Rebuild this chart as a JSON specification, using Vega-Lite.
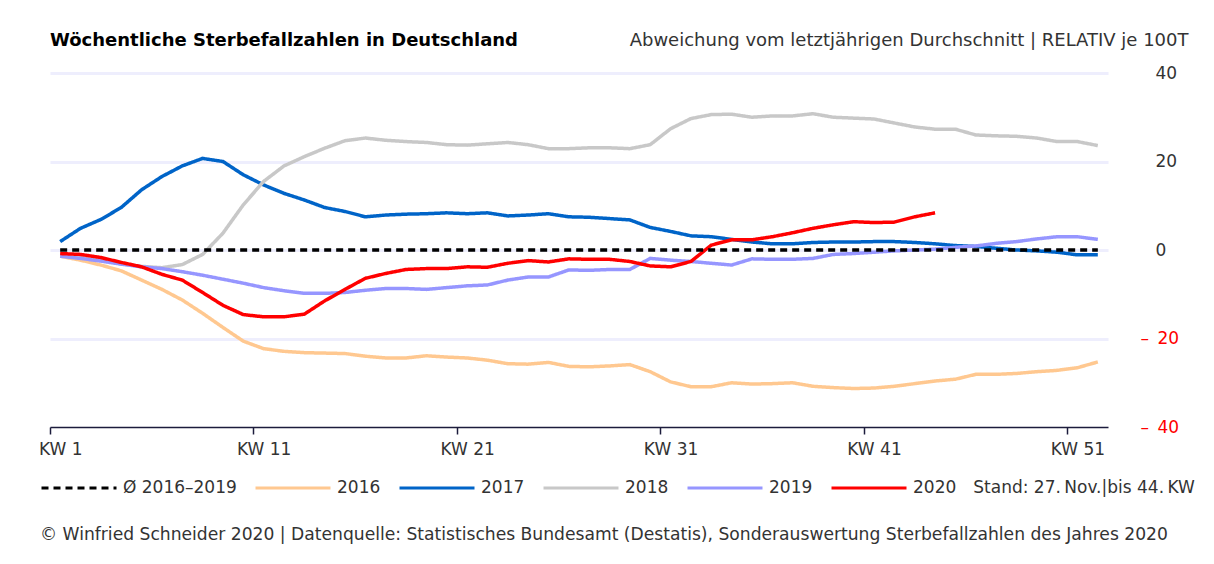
{
  "$schema": "https://vega.github.io/schema/vega-lite/v6.json",
  "width": 1058,
  "height": 354,
  "autosize": {"type": "none"},
  "padding": {"left": 50, "top": 73, "right": 106, "bottom": 137},
  "background": "white",
  "config": {"font": "DejaVu Sans", "view": {"stroke": null}},
  "title": {"text": "Wöchentliche Sterbefallzahlen in Deutschland", "anchor": "start", "frame": "group", "fontSize": 18, "fontWeight": "bold", "color": "#000000", "baseline": "alphabetic", "offset": -33},
  "data": {"values": [
    {"w":1,"2016":-1.4,"2017":1.9,"2018":-1.0,"2019":-1.4,"2020":-0.8,"avg":0},
    {"w":2,"2016":-2.3,"2017":4.9,"2018":-1.6,"2019":-1.9,"2020":-1.0,"avg":0},
    {"w":3,"2016":-3.4,"2017":6.9,"2018":-2.4,"2019":-2.5,"2020":-1.7,"avg":0},
    {"w":4,"2016":-4.7,"2017":9.6,"2018":-3.1,"2019":-3.2,"2020":-2.8,"avg":0},
    {"w":5,"2016":-6.8,"2017":13.6,"2018":-3.7,"2019":-3.8,"2020":-3.8,"avg":0},
    {"w":6,"2016":-8.9,"2017":16.6,"2018":-4.0,"2019":-4.2,"2020":-5.5,"avg":0},
    {"w":7,"2016":-11.3,"2017":19.0,"2018":-3.3,"2019":-4.9,"2020":-6.8,"avg":0},
    {"w":8,"2016":-14.3,"2017":20.7,"2018":-1.0,"2019":-5.7,"2020":-9.6,"avg":0},
    {"w":9,"2016":-17.5,"2017":20.0,"2018":3.8,"2019":-6.6,"2020":-12.5,"avg":0},
    {"w":10,"2016":-20.6,"2017":17.0,"2018":10.2,"2019":-7.5,"2020":-14.6,"avg":0},
    {"w":11,"2016":-22.3,"2017":14.7,"2018":15.5,"2019":-8.5,"2020":-15.1,"avg":0},
    {"w":12,"2016":-22.9,"2017":12.8,"2018":19.0,"2019":-9.2,"2020":-15.1,"avg":0},
    {"w":13,"2016":-23.2,"2017":11.3,"2018":21.1,"2019":-9.8,"2020":-14.5,"avg":0},
    {"w":14,"2016":-23.3,"2017":9.6,"2018":23.0,"2019":-9.8,"2020":-11.5,"avg":0},
    {"w":15,"2016":-23.4,"2017":8.7,"2018":24.7,"2019":-9.6,"2020":-8.9,"avg":0},
    {"w":16,"2016":-24.0,"2017":7.5,"2018":25.3,"2019":-9.1,"2020":-6.4,"avg":0},
    {"w":17,"2016":-24.4,"2017":7.9,"2018":24.8,"2019":-8.7,"2020":-5.3,"avg":0},
    {"w":18,"2016":-24.4,"2017":8.1,"2018":24.5,"2019":-8.7,"2020":-4.4,"avg":0},
    {"w":19,"2016":-23.9,"2017":8.2,"2018":24.3,"2019":-8.9,"2020":-4.2,"avg":0},
    {"w":20,"2016":-24.2,"2017":8.4,"2018":23.8,"2019":-8.5,"2020":-4.2,"avg":0},
    {"w":21,"2016":-24.4,"2017":8.2,"2018":23.7,"2019":-8.1,"2020":-3.8,"avg":0},
    {"w":22,"2016":-24.9,"2017":8.4,"2018":24.0,"2019":-7.9,"2020":-3.9,"avg":0},
    {"w":23,"2016":-25.7,"2017":7.7,"2018":24.3,"2019":-6.8,"2020":-3.0,"avg":0},
    {"w":24,"2016":-25.8,"2017":7.9,"2018":23.8,"2019":-6.1,"2020":-2.4,"avg":0},
    {"w":25,"2016":-25.4,"2017":8.2,"2018":22.9,"2019":-6.1,"2020":-2.7,"avg":0},
    {"w":26,"2016":-26.3,"2017":7.5,"2018":22.9,"2019":-4.5,"2020":-2.0,"avg":0},
    {"w":27,"2016":-26.4,"2017":7.4,"2018":23.1,"2019":-4.6,"2020":-2.1,"avg":0},
    {"w":28,"2016":-26.2,"2017":7.1,"2018":23.1,"2019":-4.4,"2020":-2.1,"avg":0},
    {"w":29,"2016":-25.9,"2017":6.8,"2018":22.9,"2019":-4.4,"2020":-2.6,"avg":0},
    {"w":30,"2016":-27.5,"2017":5.1,"2018":23.8,"2019":-1.9,"2020":-3.6,"avg":0},
    {"w":31,"2016":-29.8,"2017":4.2,"2018":27.4,"2019":-2.3,"2020":-3.8,"avg":0},
    {"w":32,"2016":-30.9,"2017":3.2,"2018":29.7,"2019":-2.6,"2020":-2.6,"avg":0},
    {"w":33,"2016":-30.9,"2017":3.0,"2018":30.6,"2019":-3.0,"2020":1.1,"avg":0},
    {"w":34,"2016":-30.0,"2017":2.4,"2018":30.7,"2019":-3.4,"2020":2.3,"avg":0},
    {"w":35,"2016":-30.3,"2017":1.8,"2018":30.0,"2019":-2.0,"2020":2.3,"avg":0},
    {"w":36,"2016":-30.2,"2017":1.4,"2018":30.3,"2019":-2.1,"2020":3.0,"avg":0},
    {"w":37,"2016":-30.0,"2017":1.4,"2018":30.3,"2019":-2.1,"2020":3.9,"avg":0},
    {"w":38,"2016":-30.8,"2017":1.7,"2018":30.8,"2019":-1.9,"2020":4.9,"avg":0},
    {"w":39,"2016":-31.1,"2017":1.8,"2018":30.0,"2019":-1.0,"2020":5.7,"avg":0},
    {"w":40,"2016":-31.3,"2017":1.8,"2018":29.8,"2019":-0.8,"2020":6.4,"avg":0},
    {"w":41,"2016":-31.2,"2017":1.9,"2018":29.6,"2019":-0.5,"2020":6.2,"avg":0},
    {"w":42,"2016":-30.8,"2017":1.9,"2018":28.7,"2019":-0.2,"2020":6.3,"avg":0},
    {"w":43,"2016":-30.2,"2017":1.7,"2018":27.8,"2019":0.0,"2020":7.5,"avg":0},
    {"w":44,"2016":-29.6,"2017":1.4,"2018":27.3,"2019":0.2,"2020":8.4,"avg":0},
    {"w":45,"2016":-29.2,"2017":1.0,"2018":27.3,"2019":0.6,"avg":0},
    {"w":46,"2016":-28.1,"2017":0.8,"2018":26.0,"2019":0.9,"avg":0},
    {"w":47,"2016":-28.1,"2017":0.4,"2018":25.8,"2019":1.5,"avg":0},
    {"w":48,"2016":-27.9,"2017":0.0,"2018":25.7,"2019":1.9,"avg":0},
    {"w":49,"2016":-27.5,"2017":-0.2,"2018":25.3,"2019":2.5,"avg":0},
    {"w":50,"2016":-27.2,"2017":-0.5,"2018":24.5,"2019":3.0,"avg":0},
    {"w":51,"2016":-26.6,"2017":-1.1,"2018":24.5,"2019":3.0,"avg":0},
    {"w":52,"2016":-25.3,"2017":-1.1,"2018":23.6,"2019":2.4,"avg":0}
  ]},
  "transform": [
    {"fold": ["2016", "2017", "2018", "2019", "2020", "avg"], "as": ["s", "v"]},
    {"filter": "isValid(datum.v)"}
  ],
  "mark": {"type": "line", "strokeWidth": 3.5, "clip": false},
  "encoding": {
    "x": {
      "field": "w", "type": "quantitative",
      "scale": {"domain": [0.5, 52.5], "nice": false, "zero": false},
      "axis": {"orient": "bottom", "values": [1, 11, 21, 31, 41, 51], "labelExpr": "'KW ' + datum.value", "title": null, "grid": false, "domainColor": "#1c1c3c", "domainWidth": 1.5, "tickColor": "#1c1c3c", "tickWidth": 1.5, "tickSize": 7, "tickOffset": -10.17, "labelOffset": 10.17, "labelFontSize": 17, "labelColor": "#333333", "labelPadding": 7, "labelFlush": false, "labelOverlap": false}
    },
    "y": {
      "field": "v", "type": "quantitative",
      "scale": {"domain": [-40, 40], "nice": false},
      "axis": {"orient": "right", "values": [-40, -20, 0, 20, 40], "domain": false, "ticks": false, "grid": true, "gridColor": "#eeeefd", "gridWidth": 3, "gridOpacity": {"condition": {"test": "datum.value == -40", "value": 0}, "value": 1}, "labelExpr": "datum.value < 0 ? '–\u2002' + abs(datum.value) : '' + datum.value", "labelColor": {"condition": {"test": "datum.value < 0", "value": "#ff0000"}, "value": "#333333"}, "labelAlign": "left", "labelBaseline": "middle", "labelPadding": {"condition": {"test": "datum.value < 0", "value": 32}, "value": 47}, "labelFontSize": 17, "title": "Abweichung vom letztjährigen Durchschnitt | RELATIV je 100T", "titleAngle": 0, "titleAlign": "right", "titleBaseline": "alphabetic", "titleX": 80, "titleY": -28, "titleFontSize": 18, "titleFontWeight": "normal", "titleColor": "#333333"}
    },
    "color": {
      "field": "s", "type": "nominal",
      "scale": {"domain": ["avg", "2016", "2017", "2018", "2019", "2020"], "range": ["#000000", "#ffc890", "#0064c8", "#c8c8c8", "#9696ff", "#ff0000"]},
      "legend": {"orient": "none", "legendX": -10, "legendY": 376, "direction": "horizontal", "title": "© Winfried Schneider 2020 | Datenquelle: Statistisches Bundesamt (Destatis), Sonderauswertung Sterbefallzahlen des Jahres 2020", "titleOrient": "bottom", "titleAnchor": "start", "titleFontSize": 17.15, "titleFontWeight": "normal", "titleColor": "#333333", "titleLimit": 1300, "titlePadding": 30, "labelFontSize": 17, "labelColor": "#333333", "labelLimit": 500, "labelOffset": 5, "columnPadding": 12, "symbolType": "stroke", "symbolSize": 5625, "symbolStrokeWidth": 3, "labelExpr": "datum.label == 'avg' ? 'Ø 2016–2019' : datum.label == '2020' ? '2020\u2002\u2002Stand: 27.\u2009Nov.|bis 44.\u2009KW' : datum.label"}
    },
    "strokeDash": {
      "field": "s", "type": "nominal",
      "scale": {"domain": ["avg", "2016", "2017", "2018", "2019", "2020"], "range": [[7, 5], [1, 0], [1, 0], [1, 0], [1, 0], [1, 0]]},
      "legend": {"orient": "none", "legendX": -10, "legendY": 376, "direction": "horizontal", "title": "© Winfried Schneider 2020 | Datenquelle: Statistisches Bundesamt (Destatis), Sonderauswertung Sterbefallzahlen des Jahres 2020", "titleOrient": "bottom", "titleAnchor": "start", "titleFontSize": 17.15, "titleFontWeight": "normal", "titleColor": "#333333", "titleLimit": 1300, "titlePadding": 30, "labelFontSize": 17, "labelColor": "#333333", "labelLimit": 500, "labelOffset": 5, "columnPadding": 12, "symbolType": "stroke", "symbolSize": 5625, "symbolStrokeWidth": 3, "labelExpr": "datum.label == 'avg' ? 'Ø 2016–2019' : datum.label == '2020' ? '2020\u2002\u2002Stand: 27.\u2009Nov.|bis 44.\u2009KW' : datum.label"}
    }
  }
}
